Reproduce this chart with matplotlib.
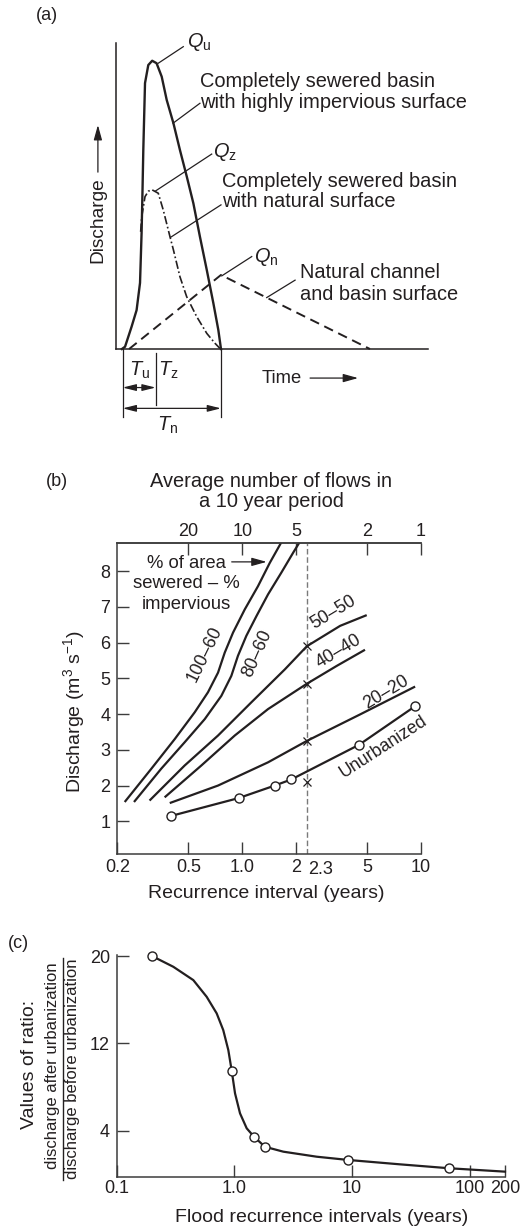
import numpy as np
import matplotlib
matplotlib.use("Agg")
import matplotlib.pyplot as plt
from matplotlib.lines import Line2D
from matplotlib.ticker import NullLocator

plt.rcParams['font.family'] = ['Liberation Sans', 'DejaVu Sans']
plt.rcParams['mathtext.fontset'] = 'custom'
plt.rcParams['mathtext.rm'] = 'Liberation Sans'
plt.rcParams['mathtext.it'] = 'Liberation Sans:italic'
plt.rcParams['font.size'] = 14.4

INK = '#231f20'
AXC = '#3c3c3c'
TICK_FS = 13
TITLE_FS = 14
CURVE_FS = 12.8

# ------------------------------------------------ (a) hydrographs, arbitrary units
t_u = [1.9, 2.9, 5.0, 6.6, 7.7, 8.2, 8.5, 8.75, 9.3, 10.35, 11.6, 13.0, 14.65,
       16.25, 18.4, 20.5, 22.7, 24.8, 26.9, 29.1, 31.2, 32.8, 33.65]
q_u = [0, 0.75, 7.3, 12.7, 21.6, 37.9, 52.0, 65.0, 86.9, 92.8, 94.2, 93.4, 89.0,
       81.4, 73.8, 65.0, 56.3, 47.6, 36.7, 25.8, 15.0, 6.2, 0]
t_z = [7.9, 8.25, 9.3, 10.4, 11.6, 13.55, 15.15, 17.3, 18.4, 20.5, 22.65, 25.85,
       29.1, 31.7, 33.3]
q_z = [38.3, 43.2, 49.8, 51.6, 52.0, 50.9, 45.4, 36.7, 32.4, 23.6, 17.1, 10.6,
       5.1, 1.9, 0.2]
t_n = [4.2, 33.65, 81.4]
q_n = [0, 24.2, 0]
T_start, T_u_peak, T_n_peak = 2.15, 12.7, 33.65

# ------------------------------------------------ (b) discharge vs recurrence
rec_100_60 = [0.220, 0.310, 0.419, 0.542, 0.643, 0.732, 0.798, 0.888, 1.033, 1.225, 1.425, 1.69]
q_100_60 = [1.54, 2.47, 3.30, 4.05, 4.61, 5.16, 5.72, 6.28, 6.93, 7.58, 8.23, 8.89]
rec_80_60 = [0.248, 0.352, 0.476, 0.617, 0.764, 0.869, 0.946, 1.054, 1.20, 1.394, 1.655, 1.923, 2.14]
q_80_60 = [1.54, 2.47, 3.21, 3.86, 4.51, 5.07, 5.63, 6.19, 6.74, 7.35, 7.96, 8.51, 8.89]
rec_50_50 = [0.303, 0.476, 0.732, 1.125, 1.73, 2.3, 3.53, 4.97]
q_50_50 = [1.58, 2.56, 3.40, 4.33, 5.25, 5.90, 6.47, 6.77]
rec_40_40 = [0.368, 0.59, 0.908, 1.394, 2.3, 3.38, 4.86]
q_40_40 = [1.67, 2.56, 3.40, 4.14, 4.85, 5.35, 5.80]
rec_20_20 = [0.393, 0.732, 1.394, 2.3, 4.56, 9.27]
q_20_20 = [1.51, 2.0, 2.65, 3.25, 3.99, 4.77]
rec_unurb = [0.40, 0.955, 1.52, 1.88, 4.50, 9.27]
q_unurb = [1.15, 1.65, 2.0, 2.17, 3.14, 4.22]
rec_cross = [2.3, 2.3, 2.3, 2.3]
q_cross = [5.90, 4.85, 3.25, 2.10]
rec_marked = 2.3
rec_ticks = [0.2, 0.5, 1.0, 2, 5, 10]
rec_labels = ['0.2', '0.5', '1.0', '2', '5', '10']
flow_ticks = [20, 10, 5, 2, 1]
q_ticks = [1, 2, 3, 4, 5, 6, 7, 8]

# ------------------------------------------------ (c) ratio vs flood recurrence
rc_pts = [0.2, 0.95, 1.47, 1.82, 9.3, 67]
ratio_pts = [20, 9.5, 3.45, 2.53, 1.32, 0.56]
rc_curve = [0.2, 0.303, 0.448, 0.582, 0.708, 0.805, 0.889, 0.95, 1.014, 1.118,
            1.274, 1.47, 1.82, 2.61, 5.01, 9.32, 25.6, 67.3, 200]
ratio_curve = [20, 19.02, 17.8, 16.27, 14.75, 13.22, 11.39, 9.49, 7.42, 5.59,
               4.22, 3.45, 2.53, 2.08, 1.62, 1.32, 0.92, 0.56, 0.25]
rc_ticks = [0.1, 1.0, 10, 100, 200]
rc_labels = ['0.1', '1.0', '10', '100', '200']
ratio_ticks = [4, 12, 20]

W, H = 527, 1227
fig = plt.figure(figsize=(W / 100, H / 100), dpi=100)


def box(l, t, r, b):
    return [l / W, 1 - b / H, (r - l) / W, (b - t) / H]


def ftext(px, py, s, **kw):
    kw.setdefault('color', INK)
    fig.text(px / W, 1 - py / H, s, **kw)


# ================================================================ panel (a)
ax = fig.add_axes(box(116, 43, 428, 349))
ax.set_xlim(0, 100); ax.set_ylim(0, 100)
for s in ('top', 'right'):
    ax.spines[s].set_visible(False)
for s in ('left', 'bottom'):
    ax.spines[s].set_color(INK); ax.spines[s].set_linewidth(1.1)
ax.set_xticks([]); ax.set_yticks([])

ax.plot(t_u, q_u, color=INK, lw=1.7, solid_joinstyle='round', clip_on=False)
ax.plot(t_z, q_z, color=INK, lw=1.2, ls=(0, (5, 1.6, 1, 1.6)), clip_on=False)
ax.plot(t_n, q_n, color=INK, lw=1.4, ls=(0, (5, 3)), clip_on=False)

leaders = [((13.56, 93.4), (21.57, 98.8)), ((18.3, 73.8), (26.9, 80.3)),
           ((12.6, 51.6), (30.67, 63.7)), ((17.5, 36.5), (33.65, 47.1)),
           ((33.9, 23.9), (43.5, 30.2)), ((48.3, 16.8), (57.4, 22.5))]
for (x0, y0), (x1, y1) in leaders:
    ax.plot([x0, x1], [y0, y1], color=INK, lw=0.9, clip_on=False)

ax.text(22.8, 98.7, r'$Q_\mathrm{u}$', va='baseline', color=INK)
ax.text(31.2, 62.9, r'$Q_\mathrm{z}$', va='baseline', color=INK)
ax.text(44.2, 28.5, r'$Q_\mathrm{n}$', va='baseline', color=INK)
for x, y, s in [(26.9, 85.5, 'Completely sewered basin'),
                (26.9, 78.7, 'with highly impervious surface'),
                (33.9, 52.8, 'Completely sewered basin'),
                (33.9, 46.3, 'with natural surface'),
                (59.0, 23.1, 'Natural channel'),
                (59.0, 16.0, 'and basin surface')]:
    ax.text(x, y, s, va='baseline', color=INK)

# time markers under the axis
for x, y0, y1 in [(T_start, 0, -22.1), (T_u_peak, -1.3, -18.3), (T_n_peak, 0, -22.1)]:
    ax.plot([x, x], [y0, y1], color=INK, lw=0.9, clip_on=False)
arr2 = dict(arrowstyle='<|-|>,head_length=0.8,head_width=0.2', color=INK, lw=0.9,
            shrinkA=0, shrinkB=0, mutation_scale=10)
ax.annotate('', xy=(T_start, -12.6), xytext=(T_u_peak, -12.6), arrowprops=arr2,
            annotation_clip=False)
ax.annotate('', xy=(T_start, -19.4), xytext=(T_n_peak, -19.4), arrowprops=arr2,
            annotation_clip=False)
ax.text(7.45, -7.1, r'$T_\mathrm{u}$', ha='center', va='center', color=INK)
ax.text(16.8, -7.1, r'$T_\mathrm{z}$', ha='center', va='center', color=INK)
ax.text(16.5, -24.8, r'$T_\mathrm{n}$', ha='center', va='center', color=INK)

arr1 = dict(arrowstyle='-|>,head_length=0.9,head_width=0.25', color=INK, lw=0.9,
            shrinkA=0, shrinkB=0, mutation_scale=10)
ax.text(46.8, -9.5, 'Time', va='center', color=INK, fontsize=13.2)
ax.annotate('', xy=(77.6, -9.5), xytext=(62.2, -9.5), arrowprops=arr1,
            annotation_clip=False)
ax.text(-5.8, 42.2, 'Discharge', rotation=90, ha='center', va='center', color=INK,
        fontsize=13.8)
ax.annotate('', xy=(-5.8, 73.2), xytext=(-5.8, 57.8), arrowprops=arr1,
            annotation_clip=False)
ftext(47, 16, '(a)', ha='center', va='center', fontsize=13)

# ================================================================ panel (b)
ax = fig.add_axes(box(117.3, 543.3, 421, 854.3))
ax.set_xscale('log')
ax.set_xlim(0.2, 10); ax.set_ylim(0.076, 8.78)
ax.spines['right'].set_visible(False)
for s in ('top', 'left', 'bottom'):
    ax.spines[s].set_color(AXC); ax.spines[s].set_linewidth(1.1)
ax.xaxis.set_minor_locator(NullLocator())
ax.set_xticks(rec_ticks, rec_labels)
ax.set_yticks(q_ticks, [str(v) for v in q_ticks])
ax.tick_params(direction='in', length=8.6, width=1, color=AXC, labelcolor=INK,
               labelsize=TICK_FS)
ax.tick_params(axis='x', pad=3.5)
ax.tick_params(axis='y', pad=5)
ax.annotate('2.3', xy=(rec_marked, 0), xycoords=('data', 'axes fraction'),
            xytext=(9.5, -11.3), textcoords='offset points', ha='center', va='center',
            color=INK, fontsize=TICK_FS)

sec = ax.secondary_xaxis('top', functions=(lambda x: 10 / x, lambda x: 10 / x))
sec.set_xticks(flow_ticks, [str(v) for v in flow_ticks])
sec.xaxis.set_minor_locator(NullLocator())
sec.tick_params(direction='in', length=8.6, width=1, color=AXC, labelcolor=INK,
                labelsize=TICK_FS, pad=2.6)
sec.spines['top'].set_color(AXC); sec.spines['top'].set_linewidth(1.1)

ax.axvline(rec_marked, color='#7a7a7a', lw=1, ls=(0, (4, 2)))
kw = dict(color=INK, lw=1.6, solid_capstyle='butt', solid_joinstyle='round')
for xs, ys in [(rec_100_60, q_100_60), (rec_80_60, q_80_60), (rec_50_50, q_50_50),
               (rec_40_40, q_40_40), (rec_20_20, q_20_20)]:
    ax.plot(xs, ys, **kw)
ax.plot(rec_unurb, q_unurb, marker='o', ms=6.5, mfc='white', mec=INK, mew=1, **kw)
ax.plot(rec_cross, q_cross, ls='none', marker='x', ms=6, mew=0.9, color=INK)

for x, y, s, r in [(0.619, 5.68, '100–60', 64), (1.21, 5.7, '80–60', 66),
                   (3.23, 6.85, '50–50', 31), (3.48, 5.75, '40–40', 31),
                   (6.35, 4.62, '20–20', 31), (6.16, 3.08, 'Unurbanized', 33)]:
    ax.text(x, y, s, rotation=r, rotation_mode='anchor', ha='center', va='center',
            color=INK, fontsize=CURVE_FS)
for y, s in [(8.21, '% of area'), (7.65, 'sewered – %'), (7.08, 'impervious')]:
    ax.text(0.489, y, s, ha='center', va='center', color=INK, fontsize=13.3)
ax.annotate('', xy=(1.37, 8.26), xytext=(0.873, 8.26), arrowprops=arr1)

ftext(271, 481.7, 'Average number of flows in', ha='center', va='center')
ftext(271, 501, 'a 10 year period', ha='center', va='center')
ftext(266, 893, 'Recurrence interval (years)', ha='center', va='center',
      fontsize=TITLE_FS)
ftext(74, 712, 'Discharge (m$^3$ s$^{-1}$)', rotation=90, ha='center', va='center',
      fontsize=TITLE_FS)
ftext(56.5, 481, '(b)', ha='center', va='center', fontsize=13)

# ================================================================ panel (c)
ax = fig.add_axes(box(116.7, 955, 505, 1177))
ax.set_xscale('log')
ax.set_xlim(0.1, 200); ax.set_ylim(-0.24, 20.1)
for s in ('top', 'right'):
    ax.spines[s].set_visible(False)
for s in ('left', 'bottom'):
    ax.spines[s].set_color(AXC); ax.spines[s].set_linewidth(1.1)
ax.xaxis.set_minor_locator(NullLocator())
ax.set_xticks(rc_ticks, rc_labels)
ax.set_yticks(ratio_ticks, [str(v) for v in ratio_ticks])
ax.tick_params(direction='in', length=8.6, width=1, color=AXC, labelcolor=INK,
               labelsize=TICK_FS)
ax.tick_params(axis='x', pad=2.5)
ax.tick_params(axis='y', pad=5)
ax.plot(rc_curve, ratio_curve, color=INK, lw=1.6, clip_on=False)
ax.plot(rc_pts, ratio_pts, ls='none', marker='o', ms=6.5, mfc='white', mec=INK,
        mew=1, clip_on=False, zorder=3)

ftext(321.7, 1218, 'Flood recurrence intervals (years)', ha='center', va='center',
      fontsize=TITLE_FS)
ftext(30, 1064, 'Values of ratio:', rotation=90, ha='center', va='center',
      fontsize=TITLE_FS)
ftext(53, 1066, 'discharge after urbanization', rotation=90, ha='center',
      va='center', fontsize=12)
ftext(72, 1069, 'discharge before urbanization', rotation=90, ha='center',
      va='center', fontsize=12)
fig.add_artist(Line2D([62.5 / W, 62.5 / W], [1 - 958 / H, 1 - 1180 / H],
                      color=INK, lw=1))
ftext(18.5, 944, '(c)', ha='center', va='center', fontsize=13)

fig.savefig('out.png', dpi=100)
